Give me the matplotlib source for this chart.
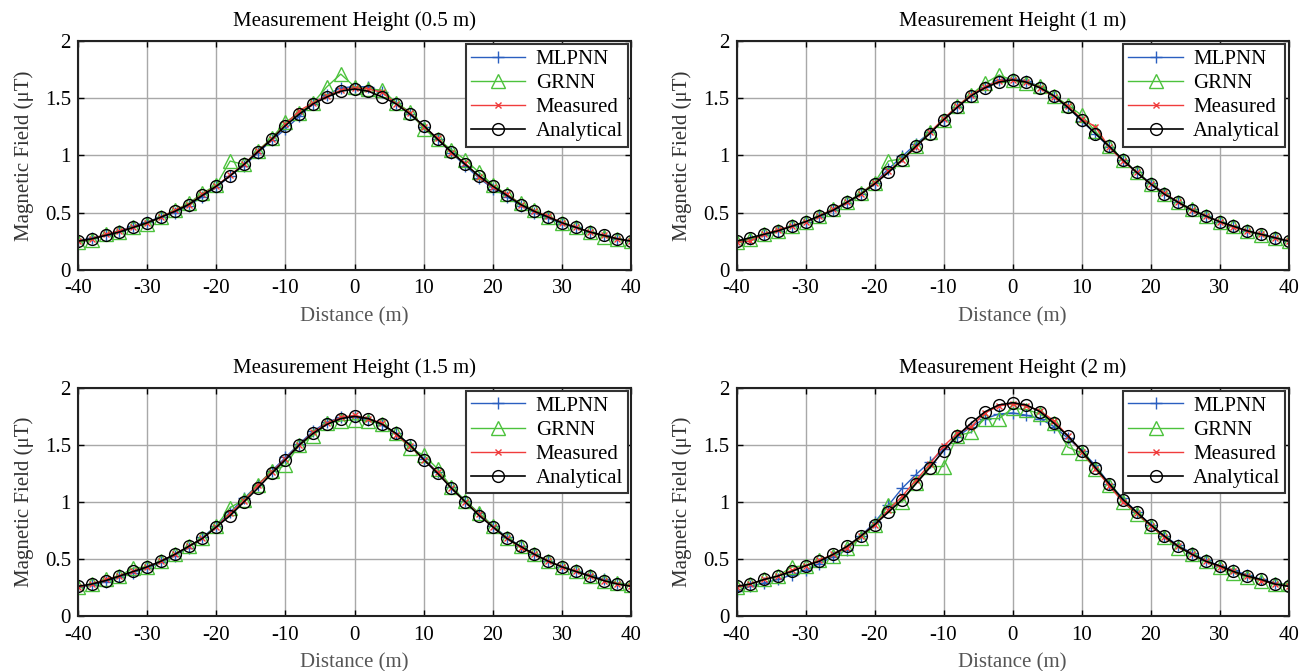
import matplotlib
matplotlib.use("Agg")
import matplotlib.pyplot as plt
import numpy as np

plt.rcParams['font.family'] = ['Liberation Serif', 'DejaVu Serif']
plt.rcParams['axes.unicode_minus'] = False

# distance points (m)
distance = list(range(-40, 41, 2))

titles = ["Measurement Height (0.5 m)", "Measurement Height (1 m)",
          "Measurement Height (1.5 m)", "Measurement Height (2 m)"]

# ---- 0.5 m
mlpnn_05 = [0.25, 0.28, 0.30, 0.34, 0.38, 0.42, 0.46, 0.50, 0.56, 0.64, 0.72, 0.82, 0.91, 1.02, 1.13, 1.23, 1.34, 1.45, 1.53, 1.59, 1.60,
            1.60, 1.55, 1.46, 1.36, 1.25, 1.14, 1.02, 0.91, 0.80, 0.71, 0.64, 0.56, 0.50, 0.45, 0.40, 0.37, 0.33, 0.30, 0.27, 0.25]
grnn_05 = [0.24, 0.26, 0.31, 0.33, 0.37, 0.40, 0.46, 0.52, 0.58, 0.67, 0.74, 0.95, 0.92, 1.04, 1.15, 1.29, 1.37, 1.46, 1.60, 1.71, 1.60,
           1.58, 1.57, 1.46, 1.38, 1.23, 1.14, 1.05, 0.96, 0.85, 0.74, 0.66, 0.58, 0.52, 0.46, 0.41, 0.37, 0.33, 0.29, 0.27, 0.25]
meas_05 = [0.25, 0.27, 0.31, 0.34, 0.37, 0.41, 0.46, 0.52, 0.57, 0.66, 0.73, 0.83, 0.92, 1.04, 1.14, 1.27, 1.39, 1.46, 1.52, 1.57, 1.59,
           1.58, 1.55, 1.45, 1.37, 1.25, 1.15, 1.02, 0.93, 0.81, 0.72, 0.66, 0.57, 0.51, 0.47, 0.41, 0.37, 0.33, 0.30, 0.27, 0.25]
anal_05 = [0.25, 0.27, 0.30, 0.33, 0.37, 0.41, 0.46, 0.51, 0.57, 0.65, 0.73, 0.82, 0.92, 1.03, 1.14, 1.26, 1.36, 1.45, 1.51, 1.56, 1.58,
           1.56, 1.51, 1.45, 1.36, 1.26, 1.14, 1.03, 0.92, 0.82, 0.73, 0.65, 0.57, 0.51, 0.46, 0.41, 0.37, 0.33, 0.30, 0.27, 0.25]

# ---- 1 m
mlpnn_1 = [0.25, 0.27, 0.30, 0.34, 0.38, 0.42, 0.46, 0.52, 0.58, 0.66, 0.76, 0.88, 0.99, 1.10, 1.20, 1.31, 1.42, 1.52, 1.60, 1.66, 1.67,
           1.65, 1.60, 1.51, 1.42, 1.30, 1.19, 1.07, 0.96, 0.85, 0.76, 0.67, 0.59, 0.53, 0.47, 0.42, 0.38, 0.34, 0.31, 0.28, 0.25]
grnn_1 = [0.24, 0.27, 0.31, 0.34, 0.38, 0.42, 0.47, 0.53, 0.59, 0.67, 0.76, 0.95, 0.97, 1.08, 1.20, 1.31, 1.43, 1.53, 1.63, 1.70, 1.66,
          1.63, 1.61, 1.52, 1.44, 1.35, 1.21, 1.08, 0.96, 0.85, 0.75, 0.66, 0.59, 0.53, 0.47, 0.42, 0.38, 0.34, 0.30, 0.28, 0.25]
meas_1 = [0.24, 0.25, 0.31, 0.35, 0.38, 0.42, 0.47, 0.53, 0.59, 0.66, 0.76, 0.86, 0.96, 1.07, 1.20, 1.32, 1.43, 1.53, 1.60, 1.65, 1.66,
          1.64, 1.59, 1.51, 1.43, 1.32, 1.25, 1.07, 0.95, 0.85, 0.75, 0.67, 0.59, 0.52, 0.47, 0.42, 0.37, 0.34, 0.31, 0.28, 0.25]
anal_1 = [0.25, 0.28, 0.31, 0.34, 0.38, 0.42, 0.47, 0.52, 0.59, 0.66, 0.75, 0.85, 0.96, 1.08, 1.19, 1.31, 1.42, 1.52, 1.59, 1.64, 1.66,
          1.64, 1.59, 1.52, 1.42, 1.31, 1.19, 1.08, 0.96, 0.85, 0.75, 0.66, 0.59, 0.52, 0.47, 0.42, 0.38, 0.34, 0.31, 0.28, 0.25]

# ---- 1.5 m
mlpnn_15 = [0.25, 0.27, 0.30, 0.34, 0.38, 0.42, 0.47, 0.53, 0.60, 0.69, 0.79, 0.91, 1.03, 1.15, 1.27, 1.39, 1.51, 1.62, 1.70, 1.74, 1.74,
            1.72, 1.67, 1.60, 1.50, 1.38, 1.26, 1.13, 1.01, 0.90, 0.79, 0.69, 0.61, 0.54, 0.48, 0.43, 0.39, 0.36, 0.32, 0.29, 0.27]
grnn_15 = [0.25, 0.28, 0.32, 0.35, 0.42, 0.43, 0.48, 0.54, 0.61, 0.68, 0.79, 0.95, 1.02, 1.15, 1.27, 1.32, 1.50, 1.58, 1.69, 1.71, 1.72,
           1.71, 1.68, 1.60, 1.47, 1.41, 1.29, 1.13, 1.01, 0.90, 0.79, 0.68, 0.61, 0.54, 0.48, 0.43, 0.39, 0.35, 0.31, 0.29, 0.27]
meas_15 = [0.25, 0.28, 0.32, 0.35, 0.39, 0.43, 0.48, 0.54, 0.61, 0.68, 0.78, 0.90, 1.01, 1.15, 1.26, 1.38, 1.50, 1.61, 1.69, 1.74, 1.76,
           1.73, 1.69, 1.59, 1.49, 1.37, 1.26, 1.12, 1.00, 0.89, 0.78, 0.68, 0.60, 0.54, 0.48, 0.43, 0.39, 0.35, 0.31, 0.28, 0.26]
anal_15 = [0.26, 0.28, 0.31, 0.35, 0.39, 0.43, 0.48, 0.54, 0.61, 0.68, 0.78, 0.88, 1.00, 1.12, 1.25, 1.37, 1.50, 1.60, 1.68, 1.73, 1.75,
           1.73, 1.68, 1.60, 1.50, 1.37, 1.25, 1.12, 1.00, 0.88, 0.78, 0.68, 0.61, 0.54, 0.48, 0.43, 0.39, 0.35, 0.31, 0.28, 0.26]

# ---- 2 m
mlpnn_2 = [0.22, 0.26, 0.29, 0.32, 0.36, 0.40, 0.46, 0.52, 0.58, 0.70, 0.82, 0.97, 1.12, 1.24, 1.35, 1.46, 1.57, 1.66, 1.73, 1.77, 1.78,
           1.76, 1.73, 1.66, 1.56, 1.45, 1.32, 1.16, 1.03, 0.91, 0.80, 0.70, 0.62, 0.55, 0.49, 0.44, 0.40, 0.36, 0.32, 0.29, 0.27]
grnn_2 = [0.25, 0.28, 0.32, 0.35, 0.43, 0.44, 0.49, 0.53, 0.60, 0.68, 0.80, 0.97, 1.00, 1.17, 1.31, 1.31, 1.58, 1.61, 1.73, 1.73, 1.82,
          1.81, 1.77, 1.69, 1.48, 1.43, 1.29, 1.15, 1.00, 0.89, 0.79, 0.69, 0.60, 0.54, 0.48, 0.43, 0.38, 0.34, 0.31, 0.28, 0.28]
meas_2 = [0.25, 0.28, 0.32, 0.35, 0.40, 0.44, 0.49, 0.54, 0.60, 0.70, 0.80, 0.93, 1.05, 1.19, 1.33, 1.49, 1.60, 1.66, 1.78, 1.84, 1.86,
          1.84, 1.80, 1.71, 1.58, 1.44, 1.29, 1.14, 1.00, 0.90, 0.79, 0.69, 0.61, 0.54, 0.48, 0.43, 0.39, 0.35, 0.31, 0.28, 0.26]
anal_2 = [0.26, 0.28, 0.32, 0.35, 0.39, 0.44, 0.48, 0.54, 0.61, 0.70, 0.80, 0.91, 1.02, 1.16, 1.30, 1.45, 1.58, 1.69, 1.79, 1.85, 1.87,
          1.85, 1.79, 1.69, 1.58, 1.45, 1.30, 1.16, 1.02, 0.91, 0.80, 0.70, 0.61, 0.54, 0.48, 0.44, 0.39, 0.35, 0.32, 0.28, 0.26]

panels = [(mlpnn_05, grnn_05, meas_05, anal_05),
          (mlpnn_1, grnn_1, meas_1, anal_1),
          (mlpnn_15, grnn_15, meas_15, anal_15),
          (mlpnn_2, grnn_2, meas_2, anal_2)]

# axes boxes in figure fractions (left, bottom, width, height)
boxes = [(0.060, 0.598, 0.426, 0.341),
         (0.567, 0.598, 0.425, 0.341),
         (0.060, 0.082, 0.426, 0.340),
         (0.567, 0.082, 0.425, 0.340)]

blue = '#2a5fc0'
green = '#4cc23c'
red = '#f03c3c'

fig = plt.figure(figsize=(12.99, 6.71), dpi=100)

for i in range(4):
    ax = fig.add_axes(boxes[i])
    mlp, grn, mea, ana = panels[i]
    ax.plot(distance, mlp, color=blue, lw=1.0, marker='+', markersize=8, markeredgewidth=1.0, label='MLPNN')
    ax.plot(distance, grn, color=green, lw=1.0, marker='^', markersize=10, markerfacecolor='none',
            markeredgewidth=1.0, label='GRNN')
    ax.plot(distance, mea, color=red, lw=1.0, marker='x', markersize=4, markeredgewidth=1.0, label='Measured')
    ax.plot(distance, ana, color='black', lw=1.2, marker='o', markersize=8.5, markerfacecolor='none',
            markeredgewidth=1.0, label='Analytical')

    ax.set_xlim(-40, 40)
    ax.set_ylim(0, 2)
    ax.set_xticks(np.arange(-40, 41, 10))
    ax.set_yticks([0, 0.5, 1, 1.5, 2])
    ax.set_yticklabels(['0', '0.5', '1', '1.5', '2'])
    ax.grid(True, color='#a8a8a8', lw=1.0, ls='-')
    ax.set_axisbelow(True)
    ax.tick_params(direction='in', length=4, width=1, top=True, right=True, labelsize=15)
    ax.tick_params(axis='x', pad=7)
    ax.tick_params(axis='y', pad=5)
    for sp in ax.spines.values():
        sp.set_linewidth(1.5)
        sp.set_color('#222222')
    ax.set_title(titles[i], fontsize=15, pad=11)
    ax.set_xlabel('Distance (m)', fontsize=15, color='#555555', labelpad=6)
    ax.set_ylabel('Magnetic Field (\u03bcT)', fontsize=15, color='#333333', labelpad=8)
    leg = ax.legend(loc='upper right', fontsize=15, frameon=True, fancybox=False, borderaxespad=0.15,
                    handlelength=2.6, handletextpad=0.5, labelspacing=0.22, borderpad=0.25)
    leg.get_frame().set_edgecolor('#333333')
    leg.get_frame().set_linewidth(1.5)
    leg.get_frame().set_alpha(1)

plt.savefig('out.png', dpi=100)
